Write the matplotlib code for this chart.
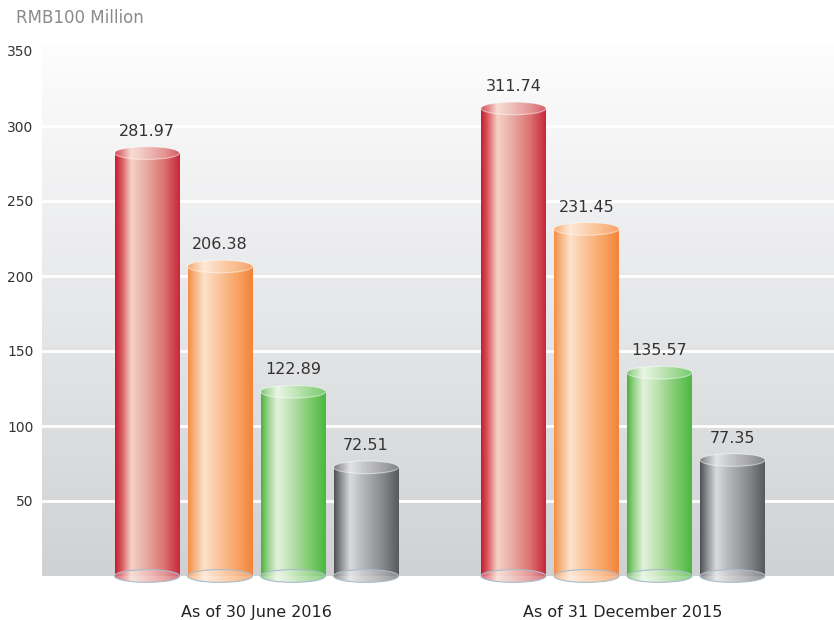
import numpy as np
import matplotlib
matplotlib.use("Agg")
import matplotlib.pyplot as plt
from matplotlib.colors import LinearSegmentedColormap, to_rgb
from matplotlib.patches import Ellipse

# data
groups = ["As of 30 June 2016", "As of 31 December 2015"]
values_2016 = [281.97, 206.38, 122.89, 72.51]
values_2015 = [311.74, 231.45, 135.57, 77.35]
yticks = [50, 100, 150, 200, 250, 300, 350]

# gradient stops across a cylinder (left -> right)
stops = {
    "red":    ["#c41c2e", "#d9575c", "#f4d2c6", "#eab0a8", "#dc7472", "#c9263a"],
    "orange": ["#f38f45", "#f7b27c", "#fde2cc", "#fbc8a0", "#f8a565", "#f2843a"],
    "green":  ["#4bb23c", "#93d185", "#e2f2dc", "#bfe3b4", "#7fcb6e", "#4cb842"],
    "gray":   ["#4f5054", "#8a8b8f", "#d9dadd", "#b5b6ba", "#88898d", "#58595d"],
}
pos = [0.0, 0.1, 0.25, 0.45, 0.75, 1.0]
colors = ["red", "orange", "green", "gray"]


def cmap_for(name, lighten=0.0):
    cols = [np.array(to_rgb(c)) * (1 - lighten) + lighten for c in stops[name]]
    return LinearSegmentedColormap.from_list(name, list(zip(pos, cols)))


fig = plt.figure(figsize=(8.34, 6.2), dpi=100)
ybot, ytop = -8, 354
ax_bottom_px, ax_top_px = 588, 45
ax = fig.add_axes([42 / 834, (620 - ax_bottom_px) / 620, 1 - 42 / 834,
                   (ax_bottom_px - ax_top_px) / 620])
ax.set_facecolor("none")
for s in ax.spines.values():
    s.set_visible(False)

gw = 366.5
x_left = (42 - 256.5) / gw
x_right = (834 - 256.5) / gw
ax.set_xlim(x_left, x_right)
ax.set_ylim(ybot, ytop)

# background gradient
bg = LinearSegmentedColormap.from_list("bg", ["#d0d1d3", "#e6e7e9", "#fdfdfd"])
grad = np.linspace(0, 1, 256).reshape(-1, 1)
ax.imshow(grad, cmap=bg, aspect="auto", origin="lower",
          extent=[x_left, x_right, 0, ytop], zorder=0)
for t in yticks[:-1]:
    ax.axhline(t, color="white", lw=2, zorder=1)

bar_w = 65 / gw
step = 73 / gw
eh = 8.5
row = np.linspace(0, 1, 256).reshape(1, -1)

for gi, vals in enumerate([values_2016, values_2015]):
    for bi, v in enumerate(vals):
        xc = gi + (bi - 1.5) * step
        x0, x1 = xc - bar_w / 2, xc + bar_w / 2
        cname = colors[bi]
        # body
        ax.imshow(row, cmap=cmap_for(cname), aspect="auto",
                  extent=[x0, x1, 0, v], zorder=3)
        # bottom ellipse
        be = Ellipse((xc, 0), bar_w, eh, facecolor="none",
                     edgecolor="#a9bccb", lw=0.8, zorder=4)
        ax.add_patch(be)
        im = ax.imshow(row, cmap=cmap_for(cname, 0.3), aspect="auto",
                       extent=[x0, x1, -eh / 2, eh / 2], zorder=3.5, alpha=0.9)
        im.set_clip_path(Ellipse((xc, 0), bar_w, eh, transform=ax.transData))
        # top ellipse
        te = Ellipse((xc, v), bar_w, eh, facecolor="none",
                     edgecolor=(1, 1, 1, 0.5), lw=0.8, zorder=6)
        ax.add_patch(te)
        im = ax.imshow(row, cmap=cmap_for(cname, 0.25), aspect="auto",
                       extent=[x0, x1, v - eh / 2, v + eh / 2], zorder=5)
        im.set_clip_path(Ellipse((xc, v), bar_w, eh, transform=ax.transData))
        ax.text(xc, v + 14.5, f"{v:.2f}", ha="center", va="center",
                fontsize=11.5, color="#333333", zorder=7)

ax.set_yticks(yticks)
ax.set_yticklabels([str(t) for t in yticks], fontsize=10, color="#333333")
ax.tick_params(axis="y", length=0, pad=6)
ax.set_xticks([0, 1])
ax.set_xticklabels(groups, fontsize=11.5, color="#222222")
ax.tick_params(axis="x", length=0, pad=12)

fig.text(16 / 834, 1 - 18 / 620, "RMB100 Million", fontsize=12,
         color="#8a8a8a", ha="left", va="center")

fig.savefig("out.png", dpi=100)
